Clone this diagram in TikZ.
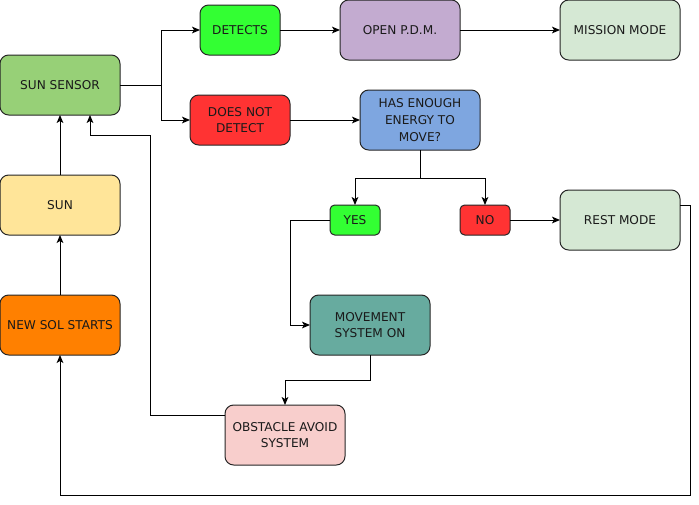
\documentclass[tikz,border=0pt]{standalone}
\usepackage{fontspec}
\setmainfont{DejaVu Sans}
\usetikzlibrary{arrows.meta}
\definecolor{cSensor}{HTML}{97D077}
\definecolor{cGreen}{HTML}{33FF33}
\definecolor{cRed}{HTML}{FF3333}
\definecolor{cPurple}{HTML}{C3ABD0}
\definecolor{cLight}{HTML}{D5E8D4}
\definecolor{cBlue}{HTML}{7EA6E0}
\definecolor{cTeal}{HTML}{67AB9F}
\definecolor{cPink}{HTML}{F8CECC}
\definecolor{cSun}{HTML}{FFE599}
\definecolor{cOrange}{HTML}{FF8000}
\definecolor{cText}{HTML}{1A1A1A}
\begin{document}
\begin{tikzpicture}[x=0.75pt,y=-0.75pt,
  box/.style={draw=black!85, line width=0.75pt, rounded corners=6.5pt, align=center,
    inner sep=0pt, outer sep=0pt, font=\fontsize{9.1pt}{12.5pt}\selectfont, text=cText},
  big/.style={box, minimum width=90pt, minimum height=45pt},
  arr/.style={line width=0.75pt, -{Stealth[length=6pt,width=5pt,inset=1.5pt]}},
  ln/.style={line width=0.75pt}]
\useasboundingbox (0,0) rectangle (699,504);
\node[big, fill=cSensor] (sensor) at (60,85) {SUN SENSOR};
\node[big, fill=cSun] (sun) at (60,205) {SUN};
\node[big, fill=cOrange] (newsol) at (60,325) {NEW SOL STARTS};
\node[box, fill=cGreen, minimum width=60pt, minimum height=37.5pt] (detects) at (240,30) {DETECTS};
\node[big, fill=cPurple] (pdm) at (400,30) {OPEN P.D.M.};
\node[big, fill=cLight] (mission) at (620,30) {MISSION MODE};
\node[box, fill=cRed, minimum width=75pt, minimum height=37.5pt] (dnd) at (240,120) {DOES NOT\\DETECT};
\node[big, fill=cBlue] (has) at (420,120) {HAS ENOUGH\\ENERGY TO\\MOVE?};
\node[box, fill=cGreen, minimum width=37.5pt, minimum height=22.5pt, rounded corners=3.5pt] (yes) at (355,220) {YES};
\node[box, fill=cRed, minimum width=37.5pt, minimum height=22.5pt, rounded corners=3.5pt] (no) at (485,220) {NO};
\node[big, fill=cLight] (rest) at (620,220) {REST MODE};
\node[big, fill=cTeal] (mov) at (370,325) {MOVEMENT\\SYSTEM ON};
\node[big, fill=cPink] (obs) at (285,435) {OBSTACLE AVOID\\SYSTEM};
\coordinate (sensorIn) at (90,115);
\coordinate (split) at (161,85);
\coordinate (hsplit) at (420,178);
% connectors
\draw[ln] (sensor.east) -- (split);
\draw[arr] (split) |- (detects.west);
\draw[arr] (split) |- (dnd.west);
\draw[arr] (detects.east) -- (pdm.west);
\draw[arr] (pdm.east) -- (mission.west);
\draw[arr] (dnd.east) -- (has.west);
\draw[ln] (has.south) -- (hsplit);
\draw[arr] (hsplit) -| (yes.north);
\draw[arr] (hsplit) -| (no.north);
\draw[arr] (no.east) -- (rest.west);
\draw[arr] (yes.west) -- (290,220) |- (mov.west);
\draw[arr] (mov.south) -- (370,380) -| (obs.north);
\draw[arr] (obs.west |- 0,415) -- (150,415) |- (90,135) -- (sensorIn);
\draw[arr] (rest.east |- 0,205) -- (690,205) |- (60,495) -- (newsol.south);
\draw[arr] (newsol.north) -- (sun.south);
\draw[arr] (sun.north) -- (sensor.south);
\end{tikzpicture}
\end{document}
